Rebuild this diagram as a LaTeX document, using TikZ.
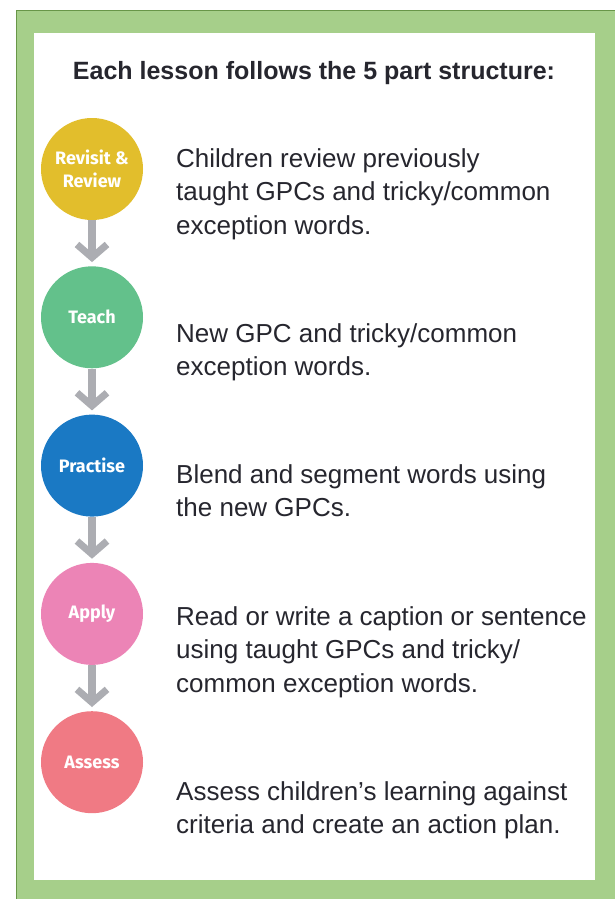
\documentclass[tikz,border=0pt]{standalone}
\usepackage{fontspec}
\setmainfont{Liberation Sans}
\newfontfamily\lblfont{Fira Sans}
\usetikzlibrary{arrows.meta,positioning}
\definecolor{frmgreen}{RGB}{166,207,138}
\definecolor{frmdark}{RGB}{104,150,72}
\definecolor{txtdark}{RGB}{38,38,46}
\definecolor{arrgray}{RGB}{172,173,178}
\definecolor{crev}{RGB}{226,190,44}
\definecolor{ctch}{RGB}{99,193,139}
\definecolor{cprc}{RGB}{26,121,196}
\definecolor{capl}{RGB}{236,132,182}
\definecolor{casm}{RGB}{240,122,132}
\tikzset{
  stage/.style={circle, minimum size=102pt, inner sep=0pt, text=white, align=center,
                font=\lblfont\bfseries\fontsize{18}{23}\selectfont},
  desc/.style={anchor=north west, inner sep=0pt, align=left, text=txtdark,
               font=\fontsize{26}{33.5}\selectfont},
  flowarr/.style={-{Straight Barb[length=13pt, width=30pt, line width=7pt]}, arrgray, line width=8pt},
  ttl/.style={font=\bfseries\fontsize{25}{30}\selectfont, text=txtdark},
}
\begin{document}
\begin{tikzpicture}[x=1pt, y=-1pt]
    \useasboundingbox (0,0) rectangle (614,899);
    \fill[frmgreen] (16,10) rectangle (620,905);
    \draw[frmdark, line width=1.5pt] (16.5,905) -- (16.5,10.5) -- (620,10.5);
    \fill[white] (34,33) rectangle (595,880);
    \node[ttl, anchor=base] (title) at (314,79) {Each lesson follows the 5 part structure:};
    % stages
    \node[stage, fill=crev] (rev) at (92,169) {Revisit \&\\Review};
    \node[stage, fill=ctch] (tch) at (92,317.3) {Teach};
    \node[stage, fill=cprc] (prc) at (92,465.6) {Practise};
    \node[stage, fill=capl] (apl) at (92,613.9) {Apply};
    \node[stage, fill=casm] (asm) at (92,762.2) {Assess};
    \foreach \a/\b in {rev/tch, tch/prc, prc/apl, apl/asm}
      \draw[flowarr] (\a) -- ([yshift=4pt]\b.north);
    % descriptions
    \node[desc] (dsc1) at (176,148.4) {Children review previously\\taught GPCs and tricky/common\\exception words.};
    \node[desc] (dsc2) at (176,323.4) {New GPC and tricky/common\\exception words.};
    \node[desc] (dsc3) at (176,464.4) {Blend and segment words using\\the new GPCs.};
    \node[desc] (dsc4) at (176,606.4) {Read or write a caption or sentence\\using taught GPCs and tricky/\\common exception words.};
    \node[desc] (dsc5) at (176,781.4) {Assess children’s learning against\\criteria and create an action plan.};
  \end{tikzpicture}
\end{document}
